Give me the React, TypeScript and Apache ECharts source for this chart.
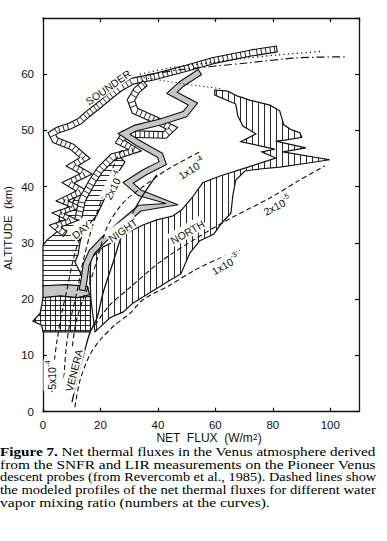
import React, { useEffect, useRef } from "react";
import * as echarts from "echarts";

type P = [number, number];

// ---------- axes ----------
const X_MIN = 0;
const X_MAX = 110;
const X_STEP = 20;
const Y_MIN = 0;
const Y_MAX = 70;
const Y_STEP = 10;
const xTickLabels = ["0", "20", "40", "60", "80", "100"];
const yTickLabels = ["0", "10", "20", "30", "40", "50", "60"];

// ---------- measured profiles (net flux W/m2, altitude km) ----------
const sounderBand: P[] = [
  [81.4, 64.5], [72.7, 63.8], [59.1, 62.4], [50.1, 61.1], [38.3, 59.5], [31.3, 58.8],
  [26.8, 57.5], [23.3, 56.1], [18.8, 54.2], [15.3, 52.8], [12.9, 51.7], [9.4, 50.8],
  [5.2, 50.1], [3.1, 49.4], [4.2, 48.3], [10.1, 47.1], [14.6, 45.1], [10.1, 43.7],
  [15.0, 42.3], [8.7, 40.7], [13.6, 39.2], [6.6, 37.5], [11.5, 36.4], [5.2, 35.3],
  [10.1, 34.1], [4.2, 33.0], [7.7, 31.6],
];

const dayProbeBand: P[] = [
  [35.5, 58.4], [32.7, 57.2], [30.6, 55.4], [32.0, 53.5], [39.0, 51.9], [44.9, 50.4],
  [42.4, 49.2], [28.5, 49.4], [26.8, 48.0], [32.0, 46.5], [24.3, 45.3], [19.8, 43.0],
  [17.0, 40.8], [13.6, 37.6], [12.2, 34.1],
];

const nightBand: P[] = [
  [54.6, 60.4], [48.3, 58.3], [44.9, 56.7], [52.2, 54.7], [49.4, 52.9], [40.7, 51.5],
  [32.0, 50.4], [28.2, 49.4], [33.0, 47.8], [40.7, 45.6], [41.7, 44.2], [35.5, 42.6],
  [29.6, 40.7], [33.7, 38.9], [44.9, 36.9], [33.7, 36.2], [26.8, 33.2], [20.9, 30.5],
  [17.0, 28.4], [15.0, 26.1], [14.3, 23.4], [13.6, 21.6],
];

const northRegion: P[] = [
  [59.8, 57.2], [64.3, 57.0], [67.8, 56.1], [72.0, 55.4], [79.0, 54.5], [82.4, 53.5],
  [83.8, 51.0], [86.6, 50.1], [89.4, 49.6], [90.1, 48.8], [84.2, 48.3], [81.0, 48.1],
  [91.5, 46.9], [83.5, 46.2], [99.8, 44.8], [89.4, 44.0], [82.4, 43.5], [76.2, 43.2],
  [70.3, 42.8], [67.1, 41.2], [66.1, 38.5], [65.4, 35.3], [62.3, 33.6], [59.5, 31.6],
  [54.6, 30.4], [51.1, 28.2], [48.0, 24.5], [44.9, 23.6], [35.5, 20.6], [31.3, 19.3],
  [27.8, 17.7], [23.3, 16.7], [18.1, 14.2], [16.7, 19.9], [16.3, 23.9], [16.7, 27.3],
  [20.9, 29.3], [25.7, 30.5], [29.2, 31.8], [34.8, 33.2], [39.6, 34.1], [45.2, 34.8],
  [48.3, 35.9], [51.8, 38.0], [55.6, 40.7], [61.6, 41.9], [72.7, 43.7], [81.0, 45.1],
  [76.2, 46.2], [80.7, 46.7], [68.9, 48.0], [74.1, 49.4], [69.6, 50.8], [67.8, 52.6],
  [67.1, 54.7], [59.8, 56.3],
];

const dayRegion: P[] = [
  [26.8, 45.3], [28.5, 44.4], [24.0, 40.8], [20.9, 37.3], [18.8, 35.0], [13.9, 32.0],
  [12.9, 30.2], [12.2, 27.9], [11.1, 26.6], [13.9, 23.8], [13.9, 22.2], [0, 22.2],
  [0, 29.6], [1.4, 30.5], [4.9, 32.0], [5.9, 35.0], [10.4, 37.3], [11.8, 38.5],
  [15.3, 39.8], [18.1, 42.4], [23.3, 44.8],
];

const veneraGridRegion: P[] = [
  [0, 14.2], [16.5, 14.2], [16.5, 20.5], [12.0, 20.3], [6.0, 20.6], [0, 20.3],
  [-1.0, 17.5], [-3.5, 16.1], [-0.5, 15.4],
];

const nightLowRegion: P[] = [
  [0, 20.3], [6.0, 20.6], [12.0, 20.3], [16.2, 20.8], [15.5, 22.3], [8.0, 22.6], [0, 22.4],
];

const veneraProfile: P[] = [
  [10.1, 1.7], [12.2, 6.5], [14.6, 11.0], [16.3, 14.0], [18.8, 16.7], [20.9, 21.1],
  [24.3, 26.4], [27.8, 31.8], [33.7, 37.6], [39.6, 42.1],
];

// ---------- modeled profiles (dashed) ----------
const model5e4: P[] = [
  [3.1, 3.5], [3.8, 8.3], [4.9, 12.7], [6.6, 17.7], [8.3, 21.6], [10.1, 26.1], [12.2, 30.0], [15.7, 33.7],
];
const model2e4: P[] = [
  [7.3, 6.0], [8.0, 11.0], [9.4, 15.9], [11.8, 21.3], [13.9, 26.6], [16.3, 31.4], [18.1, 34.4],
  [21.6, 39.4], [25.7, 45.1], [27.5, 46.5],
];
const model1e4: P[] = [
  [9.4, 6.0], [10.1, 11.0], [11.5, 15.9], [13.9, 19.9], [16.3, 22.9], [18.8, 27.0], [22.3, 32.8],
  [27.8, 37.1], [34.8, 40.0], [43.1, 43.0], [54.6, 46.2],
];
const model2e5: P[] = [
  [18.1, 15.4], [23.3, 19.0], [29.2, 21.6], [40.7, 26.6], [53.6, 30.9], [66.1, 34.6],
  [79.0, 38.0], [89.4, 41.2], [98.1, 43.7],
];
const model1e3: P[] = [
  [11.1, 0.8], [12.9, 5.6], [16.3, 10.1], [19.8, 12.7], [25.0, 15.4], [30.3, 17.5],
  [34.8, 19.9], [44.2, 22.5], [52.9, 25.2], [61.6, 27.3], [68.5, 28.7],
];

// ---------- upper-cloud extensions ----------
const dottedUpper: P[] = [[33.7, 60.0], [45.0, 61.2], [59.0, 62.1], [71.0, 62.9], [81.0, 63.4], [97.4, 64.1]];
const dottedLower: P[] = [[33.7, 59.5], [47.7, 58.4], [62.3, 57.4]];
const dashDotUpper: P[] = [[36.2, 59.9], [47.7, 60.8], [71.0, 62.0], [88.3, 62.9], [105.7, 63.1]];

// ---------- curve labels ----------
const labelTexts = ["SOUNDER", "DAY", "NIGHT", "NORTH", "VENERA", "5x10", "2x10", "1x10", "2x10", "1x10"];
const labelSups = ["", "", "", "", "", "-4", "-4", "-4", "-5", "-3"];
const labelAt: P[] = [
  [22.4, 57.9], [12.9, 32.5], [27.5, 32.5], [50.1, 32.1], [10.4, 7.4],
  [2.6, 6.5], [24.2, 40.3], [51.5, 43.4], [81.4, 36.8], [63.3, 26.3],
];
const labelAngles = [35, 40, 35, 30, 76, 90, 64, 32, 28, 30];

// ---------- caption ----------
const captionBold = "Figure 7.";
const captionLines = [
  " Net thermal fluxes in the Venus atmosphere derived",
  "from the SNFR and LIR measurements on the Pioneer Venus",
  "descent probes (from Revercomb et al., 1985). Dashed lines show",
  "the modeled profiles of the net thermal fluxes for different water",
  "vapor mixing ratio (numbers at the curves).",
];
const captionWidths = [376, 376, 376, 376, 270];

const SANS = '"Liberation Sans", "DejaVu Sans", Arial, sans-serif';
const SERIF = '"Liberation Serif", "DejaVu Serif", "Times New Roman", serif';
const CAP_SIZE = 12.6;

// ---------- geometry helpers (pixel space) ----------
function scanHatch(poly: number[][], dir: "v" | "h", gap: number, phase: number) {
  const segs: number[][] = [];
  const n = poly.length;
  const us = poly.map((p) => (dir === "v" ? p[0] : p[1]));
  const umin = Math.min(...us);
  const umax = Math.max(...us);
  for (let c = Math.ceil((umin - phase) / gap) * gap + phase; c <= umax; c += gap) {
    const hits: number[] = [];
    for (let i = 0; i < n; i++) {
      const a = poly[i];
      const b = poly[(i + 1) % n];
      const au = dir === "v" ? a[0] : a[1];
      const bu = dir === "v" ? b[0] : b[1];
      if ((au <= c && c < bu) || (bu <= c && c < au)) {
        const t = (c - au) / (bu - au);
        const av = dir === "v" ? a[1] : a[0];
        const bv = dir === "v" ? b[1] : b[0];
        hits.push(av + t * (bv - av));
      }
    }
    hits.sort((p, q) => p - q);
    for (let j = 0; j + 1 < hits.length; j += 2) {
      segs.push(dir === "v" ? [c, hits[j], c, hits[j + 1]] : [hits[j], c, hits[j + 1], c]);
    }
  }
  return segs;
}

function ribbonGeom(px: number[][], hw: number) {
  const n = px.length;
  const segN: number[][] = [];
  for (let i = 0; i < n - 1; i++) {
    const dx = px[i + 1][0] - px[i][0];
    const dy = px[i + 1][1] - px[i][1];
    const L = Math.hypot(dx, dy) || 1;
    segN.push([-dy / L, dx / L]);
  }
  const left: number[][] = [];
  const right: number[][] = [];
  for (let i = 0; i < n; i++) {
    let nx: number;
    let ny: number;
    if (i === 0) [nx, ny] = segN[0];
    else if (i === n - 1) [nx, ny] = segN[n - 2];
    else {
      const a = segN[i - 1];
      const b = segN[i];
      let mx = a[0] + b[0];
      let my = a[1] + b[1];
      const ml = Math.hypot(mx, my);
      if (ml < 1e-6) {
        mx = a[0];
        my = a[1];
      } else {
        mx /= ml;
        my /= ml;
      }
      const c = Math.max(mx * a[0] + my * a[1], 0.5);
      nx = mx / c;
      ny = my / c;
    }
    left.push([px[i][0] + nx * hw, px[i][1] + ny * hw]);
    right.push([px[i][0] - nx * hw, px[i][1] - ny * hw]);
  }
  return { poly: left.concat(right.slice().reverse()), segN };
}

const lineEl = (s: number[], w: number) => ({
  type: "line",
  shape: { x1: s[0], y1: s[1], x2: s[2], y2: s[3] },
  style: { stroke: "#111", lineWidth: w },
  silent: true,
});

function hatchedRegionSeries(region: P[], opts: { v?: boolean; h?: boolean; gap: number; fill: string; z: number }) {
  return {
    type: "custom",
    coordinateSystem: "cartesian2d",
    data: [[0, 0]],
    clip: false,
    silent: true,
    z: opts.z,
    renderItem: (_p: any, api: any) => {
      const px = region.map((d) => api.coord(d));
      const children: any[] = [
        { type: "polygon", shape: { points: px }, style: { fill: opts.fill, stroke: "none" } },
      ];
      if (opts.v) scanHatch(px, "v", opts.gap, 0.5).forEach((s) => children.push(lineEl(s, 0.9)));
      if (opts.h) scanHatch(px, "h", opts.gap, 0.5).forEach((s) => children.push(lineEl(s, 0.9)));
      children.push({
        type: "polygon",
        shape: { points: px },
        style: { fill: "none", stroke: "#111", lineWidth: 1.2 },
      });
      return { type: "group", children };
    },
  };
}

function ribbonSeries(center: P[], opts: { hw: number; fill: string; rungGap: number; z: number }) {
  return {
    type: "custom",
    coordinateSystem: "cartesian2d",
    data: [[0, 0]],
    clip: false,
    silent: true,
    z: opts.z,
    renderItem: (_p: any, api: any) => {
      const px = center.map((d) => api.coord(d));
      const { poly, segN } = ribbonGeom(px, opts.hw);
      const children: any[] = [
        { type: "polygon", shape: { points: poly }, style: { fill: opts.fill, stroke: "none" } },
      ];
      if (opts.rungGap > 0) {
        for (let i = 0; i < px.length - 1; i++) {
          const a = px[i];
          const b = px[i + 1];
          const L = Math.hypot(b[0] - a[0], b[1] - a[1]);
          const ux = (b[0] - a[0]) / (L || 1);
          const uy = (b[1] - a[1]) / (L || 1);
          const nn = segN[i];
          for (let s = opts.rungGap / 2; s < L - 1; s += opts.rungGap) {
            const cx = a[0] + ux * s;
            const cy = a[1] + uy * s;
            children.push(
              lineEl([cx + nn[0] * opts.hw, cy + nn[1] * opts.hw, cx - nn[0] * opts.hw, cy - nn[1] * opts.hw], 0.9)
            );
          }
        }
      }
      children.push({
        type: "polygon",
        shape: { points: poly },
        style: { fill: "none", stroke: "#111", lineWidth: 1.1, lineJoin: "round" },
      });
      return { type: "group", children };
    },
  };
}

const lineSeries = (data: P[], type: any, width: number, z = 6) => ({
  type: "line",
  data,
  showSymbol: false,
  symbol: "none",
  silent: true,
  smooth: 0.3,
  z,
  clip: false,
  lineStyle: { color: "#111", width, type },
});

function measure(text: string, font: string) {
  const ctx = document.createElement("canvas").getContext("2d");
  if (!ctx) return text.length * 6;
  ctx.font = font;
  return ctx.measureText(text).width;
}

export default function App() {
  const ref = useRef<HTMLDivElement>(null);

  useEffect(() => {
    if (!ref.current) return;
    const chart = echarts.init(ref.current, undefined, { renderer: "svg" });

    const axisLine = { show: true, onZero: false, lineStyle: { color: "#111", width: 1.3 } };
    const axisTick = { show: true, inside: true, length: 4, lineStyle: { color: "#111", width: 1.2 } };
    const tickText = { color: "#111", fontFamily: SANS, fontSize: 11.5 };

    const labelData = labelTexts.map((t, i) => [labelAt[i][0], labelAt[i][1], i]);

    const normalFont = `${CAP_SIZE}px ${SERIF}`;
    const boldFont = `bold ${CAP_SIZE}px ${SERIF}`;
    const captionGraphics = captionLines.map((t, i) => {
      const w = (i === 0 ? measure(captionBold, boldFont) : 0) + measure(t, normalFont);
      const sx = captionWidths[i] / (w || 1);
      return {
        type: "text",
        x: 0,
        y: 451.7 + i * 12.75,
        scaleX: sx,
        scaleY: 1,
        style: {
          text: i === 0 ? `{b|${captionBold}}${t}` : t,
          fill: "#000",
          font: normalFont,
          lineHeight: 11,
          verticalAlign: "middle",
          align: "left",
          rich: {
            b: { fontFamily: SERIF, fontSize: CAP_SIZE, fontWeight: "bold", fill: "#000", lineHeight: 11 },
          },
        },
      };
    });

    const option: any = {
      animation: false,
      backgroundColor: "#fff",
      grid: { left: 43, top: 18, width: 316, height: 393.7, show: false, containLabel: false },
      xAxis: [
        {
          type: "value", min: X_MIN, max: X_MAX, interval: X_STEP, position: "bottom",
          axisLine, axisTick, splitLine: { show: false },
          axisLabel: {
            ...tickText, margin: 7, showMaxLabel: false,
            formatter: (v: number) => xTickLabels[Math.round(v / X_STEP)] ?? "",
          },
        },
        {
          type: "value", min: X_MIN, max: X_MAX, interval: X_STEP, position: "top",
          axisLine, axisTick, splitLine: { show: false }, axisLabel: { show: false },
        },
      ],
      yAxis: [
        {
          type: "value", min: Y_MIN, max: Y_MAX, interval: Y_STEP, position: "left",
          axisLine, axisTick, splitLine: { show: false },
          axisLabel: {
            ...tickText, margin: 9, showMaxLabel: false,
            formatter: (v: number) => yTickLabels[Math.round(v / Y_STEP)] ?? "",
          },
        },
        {
          type: "value", min: Y_MIN, max: Y_MAX, interval: Y_STEP, position: "right",
          axisLine, axisTick, splitLine: { show: false }, axisLabel: { show: false },
        },
      ],
      series: [
        hatchedRegionSeries(northRegion, { v: true, gap: 6, fill: "#fff", z: 1 }),
        hatchedRegionSeries(veneraGridRegion, { v: true, h: true, gap: 5, fill: "#fff", z: 1 }),
        hatchedRegionSeries(dayRegion, { h: true, gap: 5, fill: "#fff", z: 2 }),
        hatchedRegionSeries(nightLowRegion, { gap: 5, fill: "#c6c6c6", z: 2 }),
        ribbonSeries(sounderBand, { hw: 3, fill: "#fff", rungGap: 4.5, z: 3 }),
        ribbonSeries(dayProbeBand, { hw: 3.3, fill: "#fff", rungGap: 4.5, z: 3 }),
        ribbonSeries(nightBand, { hw: 3, fill: "#c6c6c6", rungGap: 0, z: 4 }),
        lineSeries(model5e4, [5, 3], 1.1),
        lineSeries(model2e4, [5, 3], 1.1),
        lineSeries(model1e4, [5, 3], 1.1),
        lineSeries(model2e5, [5, 3], 1.1),
        lineSeries(model1e3, [5, 3], 1.1),
        lineSeries(veneraProfile, "solid", 1.3),
        lineSeries(dottedUpper, [1.2, 3.2], 1.3),
        lineSeries(dottedLower, [1.2, 2.8], 1),
        lineSeries(dashDotUpper, [8, 3, 1.5, 3], 1.2),
        {
          type: "custom",
          coordinateSystem: "cartesian2d",
          data: labelData,
          clip: false,
          silent: true,
          z: 10,
          renderItem: (_p: any, api: any) => {
            const i = api.value(2);
            const c = api.coord([api.value(0), api.value(1)]);
            const sup = labelSups[i];
            return {
              type: "text",
              x: c[0],
              y: c[1],
              rotation: (labelAngles[i] * Math.PI) / 180,
              style: {
                text: sup ? `{b|${labelTexts[i]}}{s|${sup}}` : `{b|${labelTexts[i]}}`,
                align: "center",
                verticalAlign: "middle",
                backgroundColor: "#fff",
                padding: [0, 1],
                rich: {
                  b: { fontFamily: SANS, fontSize: 10.5, fill: "#111", lineHeight: 14, verticalAlign: "bottom" },
                  s: { fontFamily: SANS, fontSize: 7.5, fill: "#111", lineHeight: 9, verticalAlign: "top" },
                },
              },
            };
          },
        },
      ],
      graphic: [
        {
          type: "text",
          x: 209,
          y: 438,
          style: {
            text: "NET  FLUX  (W/m{s|2})",
            fill: "#111",
            font: `12px ${SANS}`,
            align: "center",
            verticalAlign: "middle",
            rich: { s: { fontFamily: SANS, fontSize: 8.5, verticalAlign: "top", fill: "#111" } },
          },
        },
        {
          type: "text",
          x: 8,
          y: 228,
          rotation: Math.PI / 2,
          style: {
            text: "ALTITUDE  (km)",
            fill: "#111",
            font: `11.5px ${SANS}`,
            align: "center",
            verticalAlign: "middle",
          },
        },
        ...captionGraphics,
      ],
    };

    chart.setOption(option);
    return () => chart.dispose();
  }, []);

  return (
    <div
      ref={ref}
      style={{ position: "fixed", left: 0, top: 0, width: 387, height: 541, background: "#fff" }}
    />
  );
}
